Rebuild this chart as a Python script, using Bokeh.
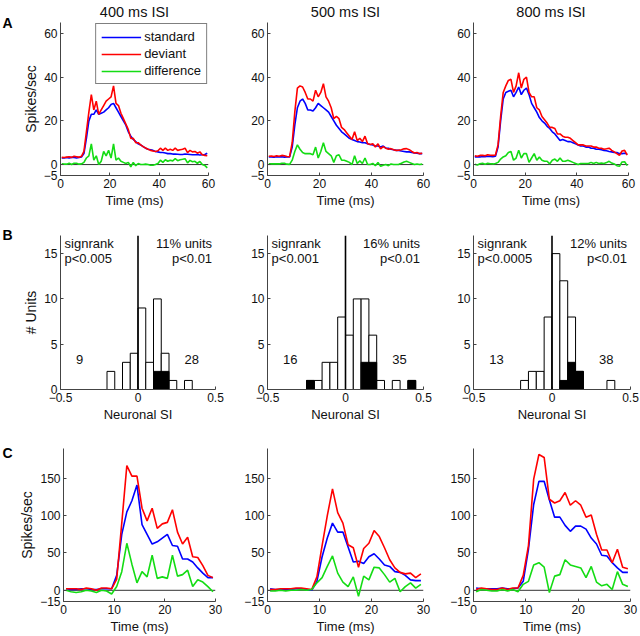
import numpy as np
from bokeh.plotting import figure
from bokeh.layouts import column, row
from bokeh.models import Range1d, FixedTicker, Span, Label
from bokeh.embed import file_html
from bokeh.resources import INLINE

FONT = "Liberation Sans"
BLUE, RED, GREEN = "#0000ff", "#ff0000", "#14dc14"

ISI_TITLES = ["400 ms ISI", "500 ms ISI", "800 ms ISI"]
PANEL_LETTERS = ["A", "B", "C"]

# ---------------- Row A: population PSTH (1 ms bins, 0-60 ms) ----------------
TIME_A = np.arange(0.5, 60.0, 1.0)

STD_A_400 = [3.0, 3.0, 3.2, 3.0, 3.3, 3.2, 3.0, 3.2, 3.5, 5, 12, 20, 23, 23, 25, 23, 23.5, 24, 25, 26,
             27.5, 28, 26, 24, 22, 20, 18, 15, 13, 11.5, 10.5, 9.5, 9, 8.2, 7.5, 7, 6.8, 6.5, 6, 5.8,
             5.5, 5.5, 5.3, 5.0, 5.0, 4.8, 4.8, 4.7, 4.6, 4.6, 4.8, 4.7, 4.6, 4.5, 4.5, 4.6, 4.4, 4.5, 4.6, 5.2]
DEV_A_400 = [3.3, 3.2, 3.4, 3.6, 3.3, 3.8, 3.6, 3.4, 3.8, 6, 15, 24, 32, 25, 29, 23, 25, 27, 29, 30,
             31, 36, 28, 27, 23.5, 21, 18.5, 16, 12, 12, 10, 10, 9, 8.2, 7.6, 7, 6.5, 6.2, 6, 6.3,
             7.5, 6.5, 7.5, 6.5, 7.0, 6.5, 7.5, 6.5, 6.8, 7.0, 7.5, 5.5, 6.5, 5.8, 6.0, 5.2, 5.8, 4.5, 4.2, 4.0]
DIF_A_400 = [0.3, 0.2, 0.2, 0.6, 0.0, 0.6, 0.6, 0.2, 0.3, 1, 3, 4, 9.5, 2, 4, 0, 1.5, 6, 4, 6.5,
             3, 9.5, 2, 3, 1.5, 1, 0.5, 1, -1, 1, -0.5, 0.5, 0, 0, 0.2, 0, -0.3, -0.3, 0, 0.5,
             2, 1, 2.2, 1.5, 2, 1.7, 2.7, 1.8, 2.2, 2.4, 2.7, 0.8, 1.9, 1.3, 1.5, 0.6, 1.4, 0, -0.4, -1.5]

STD_A_500 = [3.5, 3.5, 3.4, 3.6, 3.5, 3.6, 3.4, 3.5, 3.5, 8, 18, 26, 29, 30, 28, 25, 25, 24.5, 26, 28,
             27, 26, 25, 24, 22, 20, 18, 16.5, 15, 14, 13, 12, 11.5, 11, 10.5, 10.3, 10, 10, 9.5, 9.2,
             9, 8.5, 8.5, 8, 8.5, 7.5, 7.5, 7, 6.8, 6.5, 6.5, 6.2, 6, 5.8, 5.8, 5.5, 5.3, 5.2, 5.0, 5.0]
DEV_A_500 = [3.8, 3.9, 3.7, 4.0, 3.8, 4.2, 4.0, 3.7, 3.6, 10, 24, 35, 36, 35.5, 33, 30, 30, 29, 34, 31,
             33, 37, 31, 29, 26, 21, 22, 21, 17, 16, 14.5, 13, 11.5, 15, 11, 12, 10.5, 13, 9.5, 9.2,
             9.5, 8, 9.5, 7.2, 8.2, 7.5, 7, 7.3, 6.8, 6.5, 6.6, 6.8, 7.2, 7.3, 6.8, 6.0, 5.3, 5.5, 5.0, 5.2]
DIF_A_500 = [0.3, 0.4, 0.3, 0.4, 0.3, 0.6, 0.6, 0.2, 0.1, 2, 6, 9, 7, 5.5, 5, 5, 5, 4.5, 8, 3,
             6, 10, 6, 5, 4, 1, 4, 4.5, 2, 2, 1.5, 1, 0, 4, 0.5, 1.7, 0.5, 3, 0, 0,
             0.5, -0.5, 1, -0.8, -0.3, 0, -0.5, 0.3, 0, 0, 0.1, 0.6, 1.2, 1.5, 1.0, 0.5, 0, 0.3, 0, 0.2]

STD_A_800 = [3.5, 3.6, 3.5, 3.7, 3.6, 3.8, 3.7, 3.6, 3.8, 8, 20, 30, 33, 33.5, 34, 31, 33, 35.5, 32, 34,
             35, 32, 28, 26, 24, 21.5, 20, 19, 17.5, 16.5, 15, 14, 12.5, 11, 11.5, 11, 10.5, 10.5, 10, 9.5,
             9, 8.5, 8.5, 8, 8, 7.5, 7.5, 7, 7, 6.8, 6.5, 6.3, 6, 5.8, 5.5, 5.5, 5.0, 5.0, 5.2, 4.8]
DEV_A_800 = [4.0, 3.8, 4.2, 4.3, 4.0, 4.5, 4.3, 4.2, 4.4, 9, 22, 33, 36, 38.5, 39, 33, 36, 42, 35, 39,
             40, 33, 31, 31, 26, 25, 22, 20.5, 19, 17, 17, 16.5, 14, 14, 13, 12.5, 12.5, 12, 11, 10,
             9, 9, 9, 8.5, 8.5, 8.5, 8, 8, 7.5, 7.5, 7, 7.2, 7.5, 6.5, 5.8, 5.0, 4.2, 6.2, 6.5, 4.3]
DIF_A_800 = [0.2, -0.2, 0.4, 0.6, 0.2, 0.6, 0.4, 0.3, 0.5, 1, 2.5, 3.5, 4, 5.5, 6, 2, 3, 6.5, 3, 5,
             5, 1, 3, 5, 2, 3.5, 2, 1.5, 1.5, 0.3, 2, 2.5, 1.5, 3, 1.5, 1.5, 2, 1.5, 1, 0.5,
             0, 0.5, 0.5, 0.5, 0.5, 1, 0.5, 1, 0.5, 0.7, 0.5, 0.9, 1.5, 0.7, 0.3, -0.5, -0.8, 1.2, 1.3, -0.5]

# ---------------- Row B: histograms of neuronal SI ----------------
BIN_LEFT = np.round(np.arange(-0.5, 0.5, 0.05), 2)
BIN_WIDTH = 0.05
HIST_ALL_400 = [0, 0, 0, 0, 0, 0, 2, 0, 3, 4, 9, 3, 10, 4, 1, 0, 1, 0, 0, 0]
HIST_SIG_400 = [0, 0, 0, 0, 0, 0, 0, 0, 0, 0, 0, 0, 2, 2, 0, 0, 0, 0, 0, 0]
HIST_ALL_500 = [0, 0, 0, 0, 0, 1, 1, 3, 3, 8, 6, 10, 10, 6, 1, 0, 1, 0, 1, 0]
HIST_SIG_500 = [0, 0, 0, 0, 0, 1, 0, 0, 0, 0, 0, 0, 3, 3, 0, 0, 0, 0, 1, 0]
HIST_ALL_800 = [0, 0, 0, 0, 0, 0, 1, 2, 2, 8, 15, 12, 8, 2, 0, 0, 0, 1, 0, 0]
HIST_SIG_800 = [0, 0, 0, 0, 0, 0, 0, 0, 0, 0, 0, 1, 3, 2, 0, 0, 0, 0, 0, 0]
NEG_COUNTS = ["9", "16", "13"]
POS_COUNTS = ["28", "35", "38"]
SIGNRANK_P = ["p<0.005", "p<0.001", "p<0.0005"]
PCT_UNITS = ["11% units", "16% units", "12% units"]

# ---------------- Row C: example unit PSTH (1 ms bins, 0-30 ms) ----------------
TIME_C = np.arange(0.5, 30.0, 1.0)
STD_C_400 = [0, 1, 1, 2, 2, 1, 1, 2, 2, 2, 20, 75, 105, 120, 141, 88, 75, 62, 65, 70,
             75, 60, 59, 42, 42, 38, 30, 23, 17, 17]
DEV_C_400 = [2, 2, 2, 1, 3, 2, 0, 3, 3, 2, 15, 90, 167, 153, 153, 110, 93, 110, 83, 89,
             91, 108, 78, 62, 71, 45, 44, 33, 20, 17]
DIF_C_400 = [0, -2, -3, -2, 0, -1, -3, 0, -1, -5, 5, 25, 63, 35, 10, 25, 18, 47, 16, 18,
             16, 47, 19, 21, 27, 5, 14, 11, 5, -2]
STD_C_500 = [2, 1, 1, 1, 1, 2, 2, 1, 0, 12, 45, 70, 90, 78, 78, 58, 38, 39, 36, 45,
             49, 42, 34, 32, 25, 24, 20, 14, 13, 13]
DEV_C_500 = [1, 1, 2, 2, 2, 3, 3, 2, 1, 18, 60, 100, 136, 104, 90, 61, 57, 31, 56, 63,
             80, 72, 57, 41, 30, 24, 22, 23, 17, 22]
DIF_C_500 = [-1, -1, 0, -1, 0, 0, 1, 0, 1, 10, 17, 32, 46, 23, 11, 5, 18, -8, 19, 14,
             31, 30, 21, 11, 16, -2, 5, 10, 3, 8]
STD_C_800 = [3, 2, 2, 2, 2, 3, 2, 2, 3, 12, 55, 115, 146, 146, 121, 98, 98, 87, 79, 86,
             86, 82, 70, 62, 47, 46, 37, 30, 24, 24]
DEV_C_800 = [1, 3, 2, 1, 1, 3, 1, 3, 3, 20, 60, 149, 182, 178, 122, 117, 120, 131, 114, 120,
             114, 98, 101, 75, 54, 54, 37, 55, 31, 29]
DIF_C_800 = [-2, 1, 0, -1, -1, 1, -1, 1, -2, 8, 12, 34, 37, 31, -3, 19, 21, 41, 34, 32,
             30, 17, 32, 11, 6, 8, 1, 25, 8, 5]

ROW_A = [(STD_A_400, DEV_A_400, DIF_A_400), (STD_A_500, DEV_A_500, DIF_A_500), (STD_A_800, DEV_A_800, DIF_A_800)]
ROW_B = [(HIST_ALL_400, HIST_SIG_400), (HIST_ALL_500, HIST_SIG_500), (HIST_ALL_800, HIST_SIG_800)]
ROW_C = [(STD_C_400, DEV_C_400, DIF_C_400), (STD_C_500, DEV_C_500, DIF_C_500), (STD_C_800, DEV_C_800, DIF_C_800)]

AXC = "#444444"
TXT = "#111111"
FS_TICK = "12px"
FS_XLAB = "13px"
FS_YLAB = "14px"
FS_TITLE = "14.5px"
FS_TEXT = "13px"

LETTER_W = 16
# column geometry: (left border, right border, frame width)
COLS_A = [(44, 29, 148), (30, 20, 156), (30, 11, 155)]
COLS_BC = [(44, 22, 155), (30, 20, 156), (30, 9, 157)]
# row geometry: (height, top border, bottom border, letter top offset)
ROW_GEOM = [(213, 22, 38, 14), (212, 22, 36, 13), (211, 23, 35, 19)]


def make_fig(col, geom, xr, yr, title=None):
    left, right, fw = col
    height, top, bottom, _ = geom
    p = figure(width=left + fw + right, height=height, title=title,
               x_range=Range1d(*xr), y_range=Range1d(*yr),
               output_backend="svg", toolbar_location=None,
               min_border_left=left, min_border_right=right,
               min_border_top=top, min_border_bottom=bottom)
    p.outline_line_color = None
    p.grid.visible = False
    p.background_fill_color = "white"
    p.border_fill_color = "white"
    return p


def letter_fig(geom, text):
    height, _, _, ltop = geom
    p = figure(width=LETTER_W, height=height, title=None,
               x_range=Range1d(0, LETTER_W), y_range=Range1d(0, height),
               output_backend="svg", toolbar_location=None, x_axis_type=None, y_axis_type=None,
               min_border=0, min_border_left=0, min_border_right=0, min_border_top=0, min_border_bottom=0)
    p.outline_line_color = None
    p.grid.visible = False
    p.border_fill_color = "white"
    p.background_fill_color = "white"
    p.add_layout(Label(x=2, y=height - ltop, text=text, text_font=FONT, text_font_size="14px",
                       text_font_style="bold", text_color="black", text_align="left",
                       text_baseline="top"))
    return column(p)


def style_axes(p, xticks, yticks, xlabel, ylabel, overrides):
    p.xaxis.ticker = FixedTicker(ticks=xticks)
    p.yaxis.ticker = FixedTicker(ticks=yticks)
    for ax in (p.xaxis[0], p.yaxis[0]):
        ax.axis_line_color = AXC
        ax.major_tick_line_color = AXC
        ax.major_tick_in = 3
        ax.major_tick_out = 0
        ax.minor_tick_line_color = None
        ax.major_label_text_font = FONT
        ax.major_label_text_font_size = FS_TICK
        ax.major_label_text_color = TXT
        ax.axis_label_text_font = FONT
        ax.axis_label_text_font_style = "normal"
        ax.axis_label_text_color = TXT
        ax.major_label_standoff = 3
        ax.axis_label_standoff = 2
        ax.major_label_overrides = overrides
    p.xaxis.axis_label_text_font_size = FS_XLAB
    p.yaxis.axis_label_text_font_size = FS_YLAB
    p.xaxis.axis_label = xlabel
    if ylabel:
        p.yaxis.axis_label = ylabel


figs_a = [letter_fig(ROW_GEOM[0], PANEL_LETTERS[0])]
figs_b = [letter_fig(ROW_GEOM[1], PANEL_LETTERS[1])]
figs_c = [letter_fig(ROW_GEOM[2], PANEL_LETTERS[2])]

# Row A
for i in range(3):
    std, dev, dif = ROW_A[i]
    p = make_fig(COLS_A[i], ROW_GEOM[0], (0, 60), (-5, 65), title=ISI_TITLES[i])
    style_axes(p, [0, 20, 40, 60], [-5, 0, 20, 40, 60], "Time (ms)",
               "Spikes/sec" if i == 0 else None, {-5: "\u22125"})
    p.title.align = "center"
    p.title.vertical_align = "top"
    p.title.text_font = FONT
    p.title.text_font_size = FS_TITLE
    p.title.text_font_style = "normal"
    p.title.text_color = TXT
    p.title.standoff = 2
    p.add_layout(Span(location=0, dimension="width", line_color="#333333", line_width=1, level="underlay"))
    if i == 0:
        p.line(TIME_A, std, line_color=BLUE, line_width=1.6, legend_label="standard")
        p.line(TIME_A, dev, line_color=RED, line_width=1.6, legend_label="deviant")
        p.line(TIME_A, dif, line_color=GREEN, line_width=1.6, legend_label="difference")
        lg = p.legend[0]
        lg.location = "top_right"
        lg.margin = 1
        lg.padding = 5
        lg.spacing = 2
        lg.glyph_width = 40
        lg.glyph_height = 14
        lg.label_height = 14
        lg.label_standoff = 3
        lg.label_text_font = FONT
        lg.label_text_font_size = FS_TEXT
        lg.label_text_color = TXT
        lg.border_line_color = "black"
        lg.border_line_width = 1
        lg.background_fill_color = "white"
        lg.background_fill_alpha = 1
    else:
        p.line(TIME_A, std, line_color=BLUE, line_width=1.6)
        p.line(TIME_A, dev, line_color=RED, line_width=1.6)
        p.line(TIME_A, dif, line_color=GREEN, line_width=1.6)
    figs_a.append(p)

# Row B
for i in range(3):
    allc, sigc = ROW_B[i]
    p = make_fig(COLS_BC[i], ROW_GEOM[1], (-0.5, 0.5), (0, 17))
    style_axes(p, [-0.5, 0, 0.5], [0, 5, 10, 15], "Neuronal SI",
               "# Units" if i == 0 else None, {-0.5: "\u22120.5"})
    la = [BIN_LEFT[k] for k in range(20) if allc[k] > 0]
    ta = [allc[k] for k in range(20) if allc[k] > 0]
    p.quad(left=la, right=[v + BIN_WIDTH for v in la], bottom=0, top=ta,
           fill_color="white", line_color="black", line_width=1)
    ls = [BIN_LEFT[k] for k in range(20) if sigc[k] > 0]
    ts = [sigc[k] for k in range(20) if sigc[k] > 0]
    p.quad(left=ls, right=[v + BIN_WIDTH for v in ls], bottom=0, top=ts,
           fill_color="black", line_color="black", line_width=1)
    p.add_layout(Span(location=0, dimension="height", line_color="black", line_width=1.6))
    kw = dict(text_font=FONT, text_font_size=FS_TEXT, text_color=TXT, text_baseline="middle")
    p.add_layout(Label(x=-0.474, y=16.1, text="signrank", text_align="left", **kw))
    p.add_layout(Label(x=-0.474, y=14.45, text=SIGNRANK_P[i], text_align="left", **kw))
    p.add_layout(Label(x=0.478, y=16.1, text=PCT_UNITS[i], text_align="right", **kw))
    p.add_layout(Label(x=0.478, y=14.45, text="p<0.01", text_align="right", **kw))
    p.add_layout(Label(x=-0.4, y=3.3, text=NEG_COUNTS[i], text_align="left", **kw))
    p.add_layout(Label(x=0.3, y=3.3, text=POS_COUNTS[i], text_align="left", **kw))
    figs_b.append(p)

# Row C
for i in range(3):
    std, dev, dif = ROW_C[i]
    p = make_fig(COLS_BC[i], ROW_GEOM[2], (0, 30), (-15, 190))
    style_axes(p, [0, 10, 20, 30], [-15, 0, 50, 100, 150], "Time (ms)",
               "Spikes/sec" if i == 0 else None, {-15: "\u221215"})
    p.add_layout(Span(location=0, dimension="width", line_color="#333333", line_width=1, level="underlay"))
    p.line(TIME_C, std, line_color=BLUE, line_width=1.6)
    p.line(TIME_C, dev, line_color=RED, line_width=1.6)
    p.line(TIME_C, dif, line_color=GREEN, line_width=1.6)
    figs_c.append(p)

layout = column(row(*figs_a), row(*figs_b), row(*figs_c))
open("out.html", "w").write(file_html(layout, INLINE))
